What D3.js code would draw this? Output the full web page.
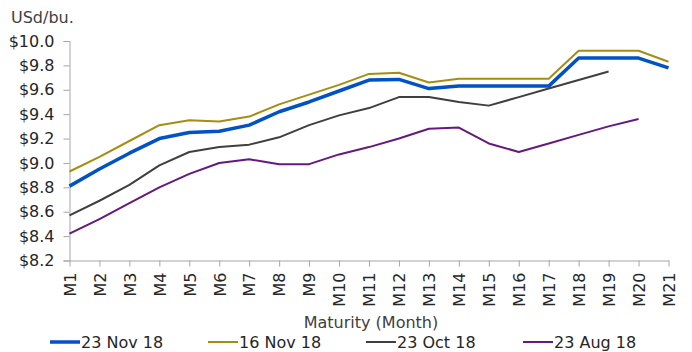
<!DOCTYPE html>
<html>
<head>
<meta charset="utf-8">
<script src="https://cdn.jsdelivr.net/npm/d3@7"></script>
<style>
  html, body { margin: 0; padding: 0; background: #fff; }
  svg { display: block; font-family: "DejaVu Sans", sans-serif; }
</style>
</head>
<body>
<svg id="chart" width="692" height="352"></svg>
<script>
// Soybean futures curve by contract month, four snapshot dates
const months = ["M1","M2","M3","M4","M5","M6","M7","M8","M9","M10","M11","M12","M13","M14","M15","M16","M17","M18","M19","M20","M21"];
const yTicks = [8.2, 8.4, 8.6, 8.8, 9.0, 9.2, 9.4, 9.6, 9.8, 10.0];

const nov23 = [8.81, 8.95, 9.08, 9.20, 9.25, 9.26, 9.31, 9.42, 9.50, 9.59, 9.68, 9.685, 9.61, 9.63, 9.63, 9.63, 9.63, 9.86, 9.86, 9.86, 9.78];
const nov16 = [8.93, 9.05, 9.18, 9.31, 9.35, 9.34, 9.38, 9.48, 9.56, 9.64, 9.73, 9.74, 9.66, 9.69, 9.69, 9.69, 9.69, 9.92, 9.92, 9.92, 9.83];
const oct23 = [8.57, 8.69, 8.82, 8.98, 9.09, 9.13, 9.15, 9.21, 9.31, 9.39, 9.45, 9.54, 9.54, 9.50, 9.47, 9.54, 9.61, 9.68, 9.75];
const aug23 = [8.42, 8.54, 8.67, 8.80, 8.91, 9.00, 9.03, 8.99, 8.99, 9.07, 9.13, 9.20, 9.28, 9.29, 9.16, 9.09, 9.16, 9.23, 9.30, 9.36];

const seriesNames = ["23 Nov 18", "16 Nov 18", "23 Oct 18", "23 Aug 18"];
const seriesValues = [nov23, nov16, oct23, aug23];
const seriesColors = ["#0052c6", "#a58d12", "#3f3f3f", "#65197e"];
const seriesWidths = [3.5, 2, 2, 2];

const svg = d3.select("#chart");
const plotLeft = 69.5, plotRight = 668.5, plotTop = 41, plotBottom = 260.5;

const x = d3.scalePoint().domain(months).range([plotLeft, plotRight]);
const y = d3.scaleLinear().domain([8.2, 10.0]).range([plotBottom, plotTop]);

// Unit label
svg.append("text")
  .attr("x", 11).attr("y", 23)
  .attr("font-size", 16).attr("fill", "#404040")
  .text("USd/bu.");

// Y axis
const yAxis = svg.append("g")
  .attr("transform", `translate(${plotLeft},0)`)
  .call(d3.axisLeft(y).tickValues(yTicks).tickSize(6).tickPadding(9)
    .tickFormat(d => "$" + d.toFixed(1)));
yAxis.select(".domain").attr("stroke", "#a6a6a6");
yAxis.selectAll(".tick line").attr("stroke", "#a6a6a6");
yAxis.selectAll(".tick text")
  .attr("font-size", 16).attr("fill", "#262626")
  .attr("font-family", "DejaVu Sans, sans-serif");

// X axis with rotated month labels
const xAxis = svg.append("g")
  .attr("transform", `translate(0,${plotBottom})`)
  .call(d3.axisBottom(x).tickSize(6).tickSizeOuter(0));
xAxis.select(".domain").attr("stroke", "#a6a6a6");
xAxis.selectAll(".tick line").attr("stroke", "#a6a6a6");
xAxis.selectAll(".tick text")
  .attr("font-size", 16).attr("fill", "#262626")
  .attr("font-family", "DejaVu Sans, sans-serif")
  .attr("text-anchor", "end")
  .attr("transform", "rotate(-90)")
  .attr("x", -12).attr("y", 0).attr("dy", "0.36em");

// Series lines
const line = d3.line()
  .x((d, i) => x(months[i]))
  .y(d => y(d));

seriesValues.forEach((vals, k) => {
  svg.append("path")
    .datum(vals)
    .attr("fill", "none")
    .attr("stroke", seriesColors[k])
    .attr("stroke-width", seriesWidths[k])
    .attr("stroke-linejoin", "round")
    .attr("d", line);
});

// Axis title
svg.append("text")
  .attr("x", 371).attr("y", 328)
  .attr("text-anchor", "middle")
  .attr("font-size", 16).attr("fill", "#404040")
  .text("Maturity (Month)");

// Legend
const legendX = [50, 208, 366, 523];
seriesNames.forEach((name, k) => {
  const g = svg.append("g").attr("transform", `translate(${legendX[k]},342)`);
  g.append("line")
    .attr("x1", 0).attr("x2", 30).attr("y1", 0).attr("y2", 0)
    .attr("stroke", seriesColors[k]).attr("stroke-width", seriesWidths[k]);
  g.append("text")
    .attr("x", 31).attr("y", 0).attr("dy", "0.36em")
    .attr("font-size", 16).attr("fill", "#262626")
    .text(name);
});
</script>
</body>
</html>
